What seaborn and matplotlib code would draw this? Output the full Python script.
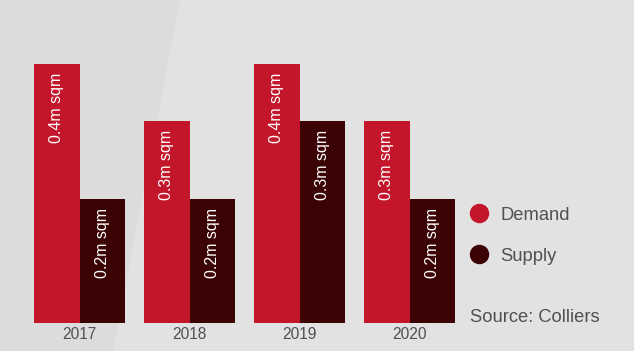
import matplotlib
matplotlib.use("Agg")
import matplotlib.pyplot as plt
from matplotlib.patches import Polygon
from matplotlib.lines import Line2D
import pandas as pd
import seaborn as sns

# Annual demand vs supply (million sqm)
years = ["2017", "2018", "2019", "2020"]
demand = [0.40, 0.312, 0.40, 0.312]
supply = [0.191, 0.191, 0.312, 0.191]
series = ["Demand", "Supply"]
source_note = "Source: Colliers"

RED = "#c4162b"
DARK = "#3b0303"
BG = "#e2e2e2"
TEXT = "#505050"

sns.set_theme(style="white")
plt.rcParams["font.family"] = ["Liberation Sans", "DejaVu Sans"]

df = pd.DataFrame({
    "year": years * 2,
    "value": demand + supply,
    "series": [series[0]] * len(years) + [series[1]] * len(years),
})

W, H = 634, 351
fig = plt.figure(figsize=(W / 100, H / 100), dpi=100)
fig.patch.set_facecolor(BG)

# subtle diagonal panel on the left of the background
fig.patches.append(Polygon([(0, 0), (113 / W, 0), (180 / W, 1), (0, 1)],
                           closed=True, transform=fig.transFigure,
                           facecolor="#dcdcdc", edgecolor="none", zorder=-1))

ax = fig.add_axes([24.5 / W, 28 / H, 440 / W, 323.75 / H])
ax.set_facecolor("none")

sns.barplot(data=df, x="year", y="value", hue="series", order=years,
            hue_order=series, palette=[RED, DARK], width=0.82,
            saturation=1, legend=False, ax=ax, edgecolor="none", linewidth=0)

ax.set_ylim(0, 0.40 / 259 * 323.75)
ax.set_xlim(-0.5, 3.5)
for s in ax.spines.values():
    s.set_visible(False)
ax.set_xlabel("")
ax.set_ylabel("")
ax.set_yticks([])
ax.tick_params(axis="x", length=0, pad=3, labelsize=11.2, labelcolor=TEXT)

# value labels inside bars, rotated, near the top
for container in ax.containers:
    for bar in container:
        h = bar.get_height()
        ax.annotate(f"{h:.1f}m sqm",
                    xy=(bar.get_x() + bar.get_width() / 2, h),
                    xytext=(0, -9), textcoords="offset pixels",
                    rotation=90, ha="center", va="top",
                    color="white", fontsize=11.5)

# legend
for i, (name, col) in enumerate(zip(series, [RED, DARK])):
    y = 1 - (213 + 41 * i) / H
    fig.add_artist(Line2D([479 / W], [y], transform=fig.transFigure,
                          marker="o", markersize=13, color=col,
                          linestyle="none"))
    fig.text(500 / W, y - 2.5 / H, name, ha="left", va="center",
             fontsize=13.2, color=TEXT)

fig.text(470 / W, 1 - 318 / H, source_note, ha="left", va="center",
         fontsize=13.2, color=TEXT)

fig.savefig("out.png", dpi=100, facecolor=BG)
